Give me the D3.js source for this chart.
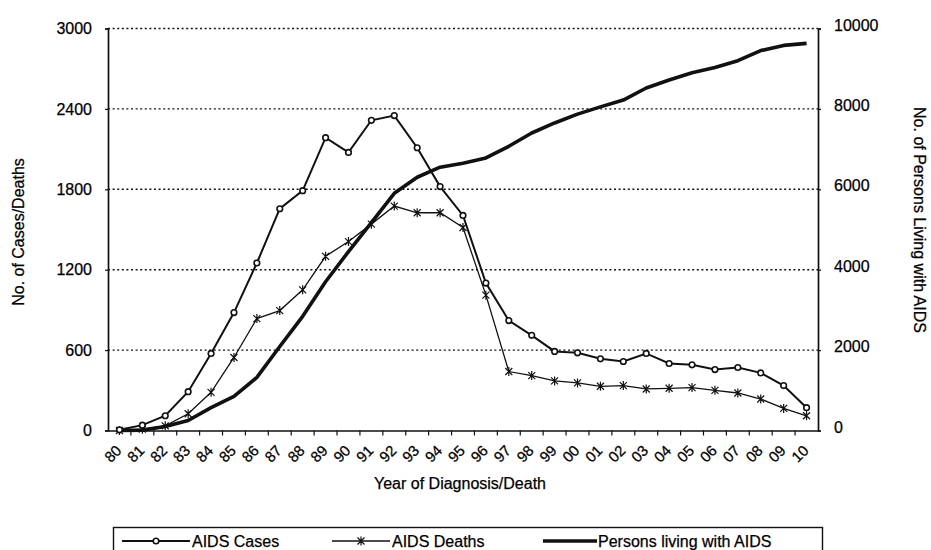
<!DOCTYPE html>
<html>
<head>
<meta charset="utf-8">
<script src="https://cdn.jsdelivr.net/npm/d3@7"></script>
<style>
  body{margin:0;background:#fff;}
  text{font-family:"Liberation Sans",Arial,sans-serif;fill:#000;stroke:#000;stroke-width:0.25px;}
</style>
</head>
<body>
<script>
var years=["80","81","82","83","84","85","86","87","88","89","90","91","92","93","94","95","96","97","98","99","00","01","02","03","04","05","06","07","08","09","10"]
var cases=[5,40,110,290,575,880,1250,1655,1790,2185,2075,2315,2350,2110,1820,1605,1100,820,710,590,580,535,515,575,500,490,455,470,430,335,170]
var deaths=[0,10,35,125,285,545,835,895,1050,1300,1410,1540,1675,1625,1625,1515,1010,440,410,370,355,330,335,310,315,320,300,280,235,165,110]
var persons=[0,10,100,250,570,850,1320,2090,2840,3700,4450,5170,5900,6300,6550,6650,6780,7070,7400,7650,7870,8050,8220,8520,8720,8900,9030,9200,9450,9580,9630]
var leftTicks=[0,600,1200,1800,2400,3000]
var rightTicks=[0,2000,4000,6000,8000,10000]

var screen={width:931,height:550}
var margins={top:28.5,left:108,right:113,bottom:119.5}
var width=screen.width-margins.left-margins.right
var height=screen.height-margins.top-margins.bottom

var svg=d3.select("body").append("svg")
          .attr("width",screen.width)
          .attr("height",screen.height)

var xScale=d3.scaleBand().domain(years).range([0,width])
var yLeft=d3.scaleLinear().domain([0,3000]).range([height,0])
var yRight=d3.scaleLinear().domain([0,10000]).range([height,0])
var cx=function(i){return xScale(years[i])+xScale.bandwidth()/2}

var plot=svg.append("g")
            .attr("transform","translate("+margins.left+","+margins.top+")")

//dotted grid
plot.append("g").selectAll("line")
    .data(leftTicks.filter(function(d){return d>0}))
    .enter().append("line")
    .attr("x1",0).attr("x2",width)
    .attr("y1",function(d){return yLeft(d)})
    .attr("y2",function(d){return yLeft(d)})
    .attr("stroke","#111")
    .attr("stroke-width",1.4)
    .attr("stroke-dasharray","2,2.6")

//axes
var yAxisL=d3.axisLeft(yLeft).tickValues(leftTicks).tickFormat(d3.format("d")).tickSize(3).tickPadding(13)
var yAxisR=d3.axisRight(yRight).tickValues(rightTicks).tickFormat(d3.format("d")).tickSize(3).tickPadding(13)
var xAxis=d3.axisBottom(xScale).tickSize(0).tickFormat("")

var gl=plot.append("g").call(yAxisL)
var gr=plot.append("g").attr("transform","translate("+width+",0)").call(yAxisR)
var gx=plot.append("g").attr("transform","translate(0,"+height+")").call(xAxis)
;[gl,gr,gx].forEach(function(g){
  g.select(".domain").attr("stroke","#111").attr("stroke-width",1.7)
  g.selectAll(".tick line").attr("stroke","#111").attr("stroke-width",1.2)
  g.selectAll(".tick text").style("font-size","16px").attr("fill","#000")
})
gr.selectAll(".tick text").attr("dy","0.1em")

//x ticks between categories
gx.append("g").selectAll("line")
  .data(years.slice(1))
  .enter().append("line")
  .attr("x1",function(d){return xScale(d)})
  .attr("x2",function(d){return xScale(d)})
  .attr("y1",0).attr("y2",5)
  .attr("stroke","#111").attr("stroke-width",1.2)

//rotated year labels
plot.append("g").selectAll("text")
    .data(years)
    .enter().append("text")
    .attr("transform",function(d,i){return "translate("+(cx(i)+3)+","+(height+21)+") rotate(-45)"})
    .attr("text-anchor","end")
    .style("font-size","15px")
    .text(function(d){return d})

//lines
var lineL=d3.line().x(function(d,i){return cx(i)}).y(function(d){return yLeft(d)})
var lineR=d3.line().x(function(d,i){return cx(i)}).y(function(d){return yRight(d)})

plot.append("path").datum(persons)
    .attr("d",lineR).attr("fill","none")
    .attr("stroke","#111").attr("stroke-width",3.6).attr("stroke-linejoin","round")
plot.append("path").datum(deaths)
    .attr("d",lineL).attr("fill","none")
    .attr("stroke","#111").attr("stroke-width",1.3)
plot.append("path").datum(cases)
    .attr("d",lineL).attr("fill","none")
    .attr("stroke","#111").attr("stroke-width",2)

//markers
var star=function(x,y,s){
  return "M"+(x-s)+","+(y-s)+"L"+(x+s)+","+(y+s)+"M"+(x-s)+","+(y+s)+"L"+(x+s)+","+(y-s)+"M"+x+","+(y-s-1)+"L"+x+","+(y+s+1)
}
plot.append("g").selectAll("path")
    .data(deaths)
    .enter().append("path")
    .attr("d",function(d,i){return star(cx(i),yLeft(d),3.5)})
    .attr("stroke","#111").attr("stroke-width",1.2).attr("fill","none")
plot.append("g").selectAll("circle")
    .data(cases)
    .enter().append("circle")
    .attr("cx",function(d,i){return cx(i)})
    .attr("cy",function(d){return yLeft(d)})
    .attr("r",2.8)
    .attr("fill","#fff").attr("stroke","#111").attr("stroke-width",1.6)

//axis titles
svg.append("text")
   .attr("transform","translate(24,232) rotate(-90)")
   .attr("text-anchor","middle")
   .style("font-size","16px")
   .text("No. of Cases/Deaths")
svg.append("text")
   .attr("transform","translate(914,220) rotate(90)")
   .attr("text-anchor","middle")
   .style("font-size","16px")
   .text("No. of Persons Living with AIDS")
svg.append("text")
   .attr("x",460).attr("y",489)
   .attr("text-anchor","middle")
   .style("font-size","16px")
   .text("Year of Diagnosis/Death")

//legend
var legend=svg.append("g")
legend.append("rect")
      .attr("x",113.5).attr("y",527.5).attr("width",709).attr("height",40)
      .attr("fill","none").attr("stroke","#111").attr("stroke-width",1.4)
var ly=541
legend.append("line").attr("x1",122).attr("x2",190).attr("y1",ly).attr("y2",ly)
      .attr("stroke","#111").attr("stroke-width",2)
legend.append("circle").attr("cx",156).attr("cy",ly).attr("r",2.8)
      .attr("fill","#fff").attr("stroke","#111").attr("stroke-width",1.6)
legend.append("text").attr("x",192).attr("y",547).style("font-size","16px").text("AIDS Cases")
legend.append("line").attr("x1",332).attr("x2",390).attr("y1",ly).attr("y2",ly)
      .attr("stroke","#111").attr("stroke-width",1.3)
legend.append("path").attr("d",star(361,ly,3.5))
      .attr("stroke","#111").attr("stroke-width",1.2).attr("fill","none")
legend.append("text").attr("x",392).attr("y",547).style("font-size","16px").text("AIDS Deaths")
legend.append("line").attr("x1",543).attr("x2",597).attr("y1",ly).attr("y2",ly)
      .attr("stroke","#111").attr("stroke-width",3.6)
legend.append("text").attr("x",598).attr("y",547).style("font-size","16px").text("Persons living with AIDS")
</script>
</body>
</html>
